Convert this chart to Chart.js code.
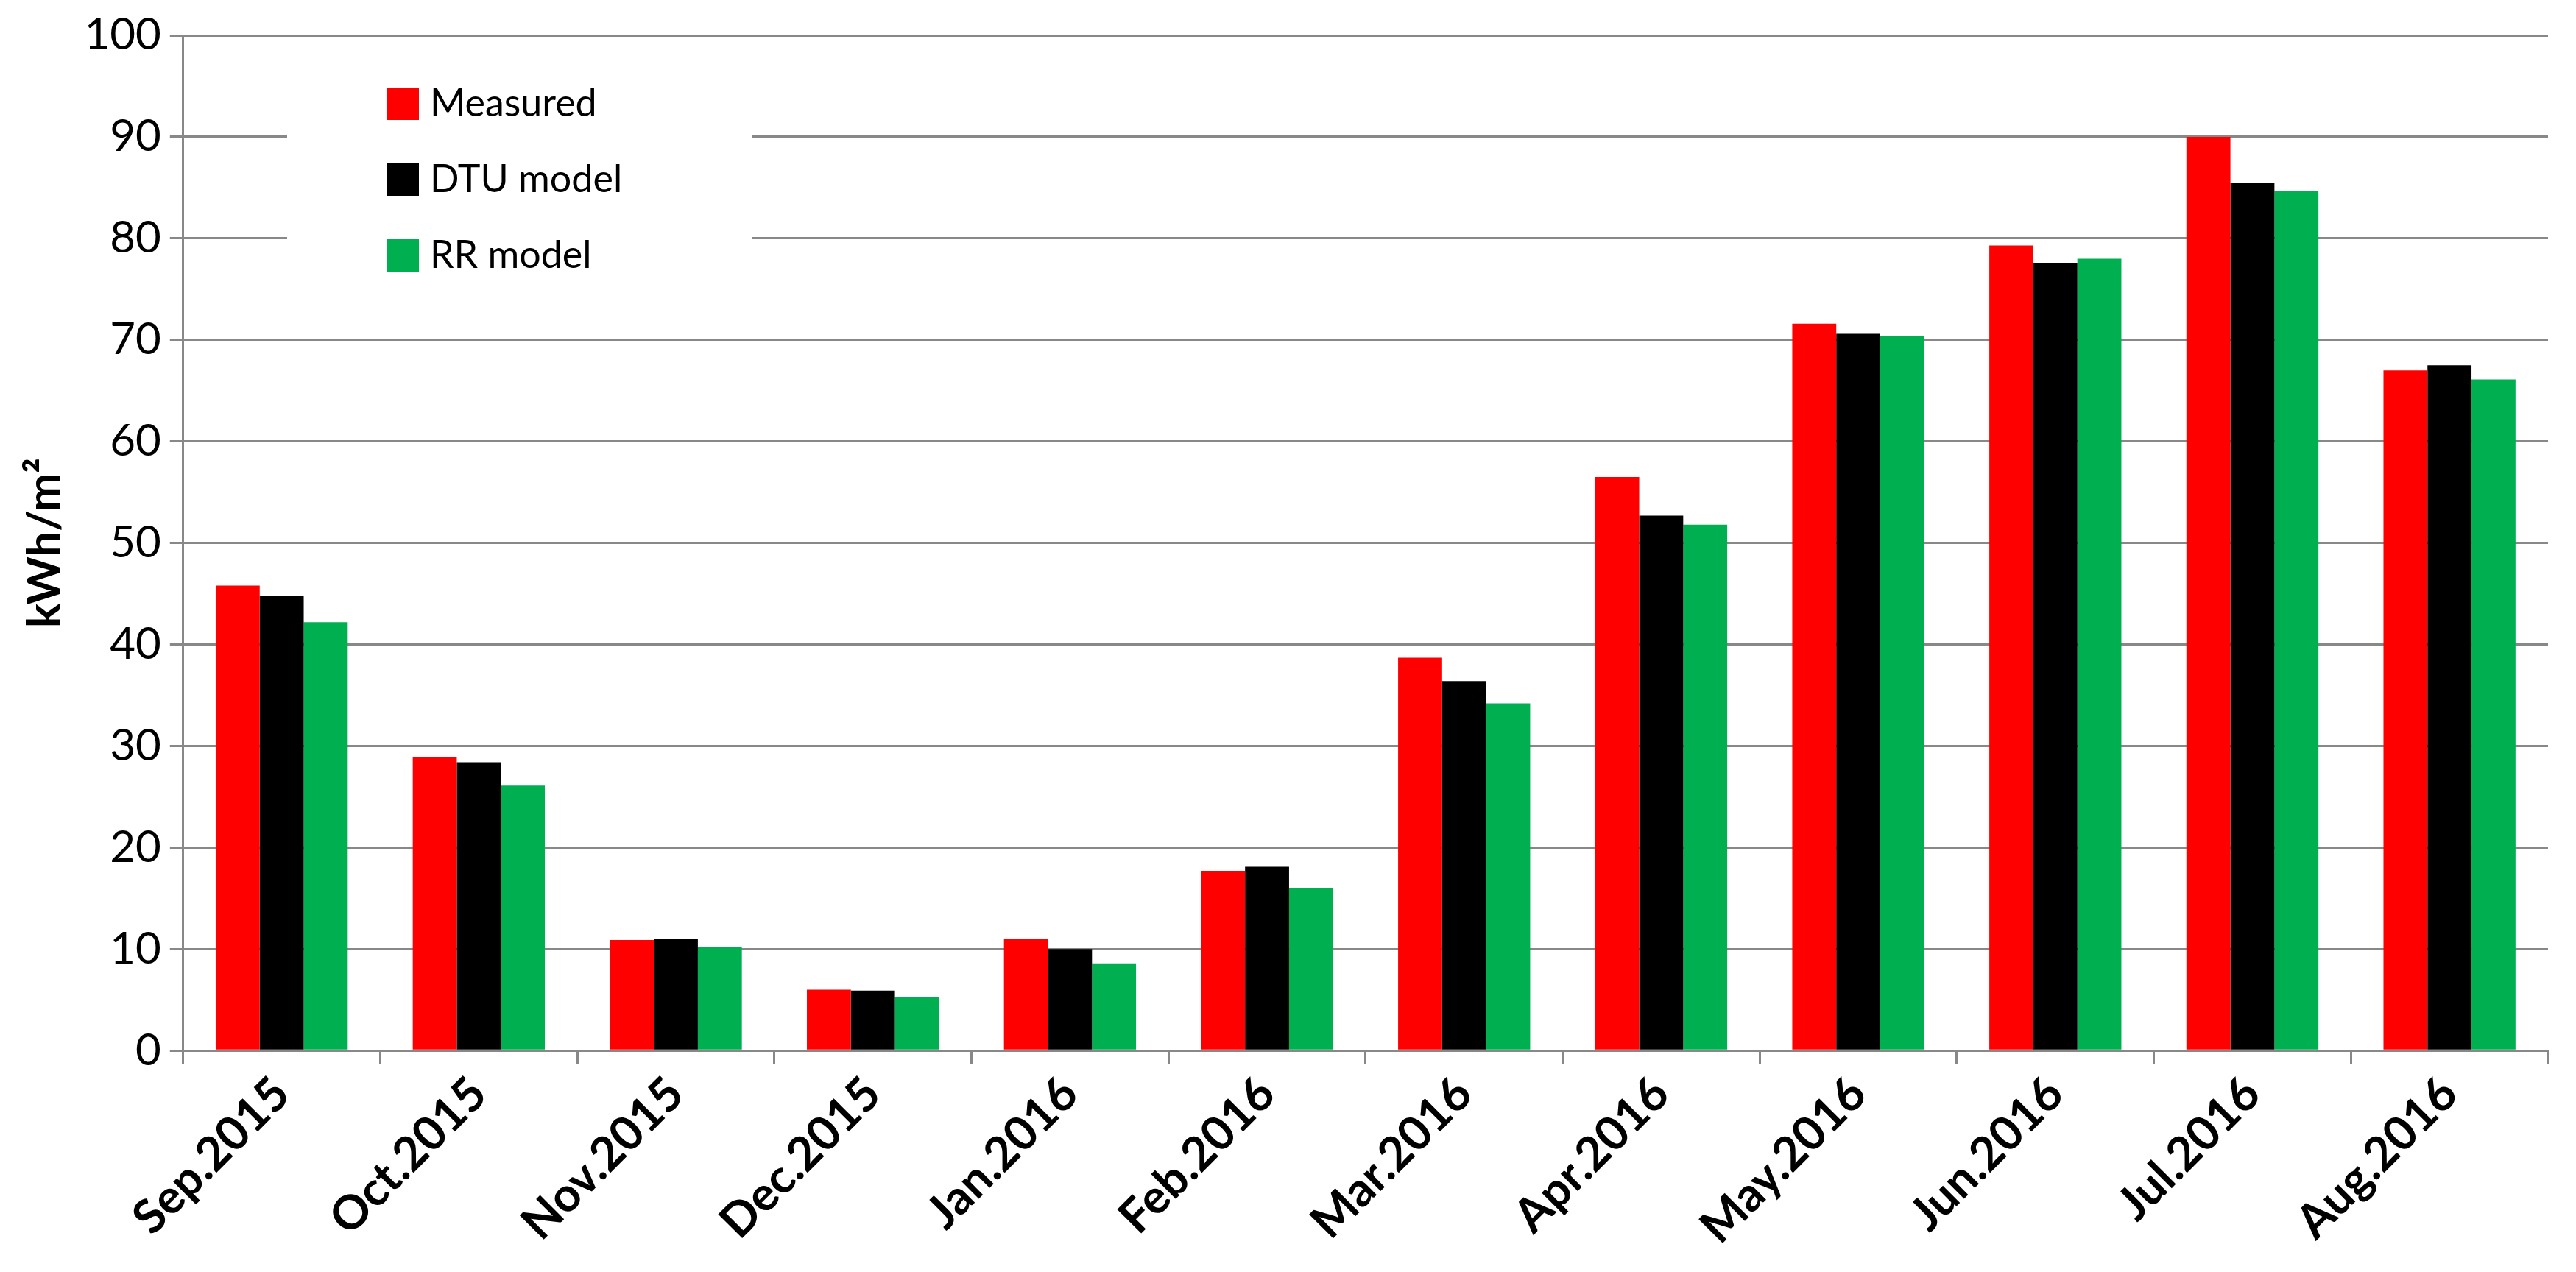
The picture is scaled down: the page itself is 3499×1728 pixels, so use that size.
<!DOCTYPE html>
<html>
<head>
<meta charset="utf-8">
<script src="https://cdn.jsdelivr.net/npm/chart.js@4"></script>
<style>
  html, body { margin: 0; padding: 0; background: #fff; }
  #wrap { width: 3499px; height: 1728px; }
</style>
</head>
<body>
<div id="wrap"><canvas id="c"></canvas></div>
<script>
const months = ["Sep.2015", "Oct.2015", "Nov.2015", "Dec.2015", "Jan.2016", "Feb.2016",
                "Mar.2016", "Apr.2016", "May.2016", "Jun.2016", "Jul.2016", "Aug.2016"];
const measured = [45.8, 28.9, 10.9, 6.0, 11.0, 17.7, 38.7, 56.5, 71.6, 79.3, 90.0, 67.0];
const dtuModel = [44.8, 28.4, 11.0, 5.9, 10.0, 18.1, 36.4, 52.7, 70.6, 77.6, 85.5, 67.5];
const rrModel  = [42.2, 26.1, 10.2, 5.3, 8.6, 16.0, 34.2, 51.8, 70.4, 78.0, 84.7, 66.1];
const yTicks = [0, 10, 20, 30, 40, 50, 60, 70, 80, 90, 100];

const fontFam = "Lato, 'Open Sans', sans-serif";

// legend drawn as a white box inside the plot, like the original
const boxLegend = {
  id: "boxLegend",
  afterDraw(chart) {
    const ctx = chart.ctx;
    ctx.save();
    ctx.fillStyle = "#fff";
    ctx.fillRect(390, 89, 632, 335);
    ctx.font = "52px " + fontFam;
    ctx.textBaseline = "middle";
    chart.data.datasets.forEach((ds, i) => {
      const y = 141 + i * 103;
      ctx.fillStyle = ds.backgroundColor;
      ctx.fillRect(525, y - 22, 44, 44);
      ctx.fillStyle = "#000";
      ctx.fillText(ds.label, 584, y);
    });
    ctx.restore();
  }
};

new Chart(document.getElementById("c"), {
  type: "bar",
  data: {
    labels: months,
    datasets: [
      { label: "Measured", data: measured, backgroundColor: "#ff0000" },
      { label: "DTU model", data: dtuModel, backgroundColor: "#000000" },
      { label: "RR model", data: rrModel, backgroundColor: "#00b050" }
    ]
  },
  options: {
    responsive: true,
    maintainAspectRatio: false,
    animation: false,
    layout: { padding: { top: 36, right: 38, bottom: 20, left: 20 } },
    datasets: { bar: { categoryPercentage: 0.67, barPercentage: 1.0 } },
    plugins: { legend: { display: false }, tooltip: { enabled: false } },
    scales: {
      x: {
        grid: { display: true, drawOnChartArea: false, offset: true, color: "#888", lineWidth: 3, tickLength: 18 },
        border: { color: "#888", width: 3 },
        ticks: { color: "#000", font: { size: 64, weight: "bold", family: fontFam }, minRotation: 45, maxRotation: 45 }
      },
      y: {
        min: 0, max: 100,
        afterBuildTicks(axis) { axis.ticks = yTicks.map(v => ({ value: v })); },
        grid: { color: "#888", lineWidth: 3, tickLength: 18 },
        border: { color: "#888", width: 3 },
        ticks: { color: "#000", font: { size: 60, family: fontFam }, padding: 12 },
        title: { display: true, text: "kWh/m²", color: "#000", font: { size: 62, weight: "bold", family: fontFam } }
      }
    }
  },
  plugins: [boxLegend]
});
</script>
</body>
</html>
